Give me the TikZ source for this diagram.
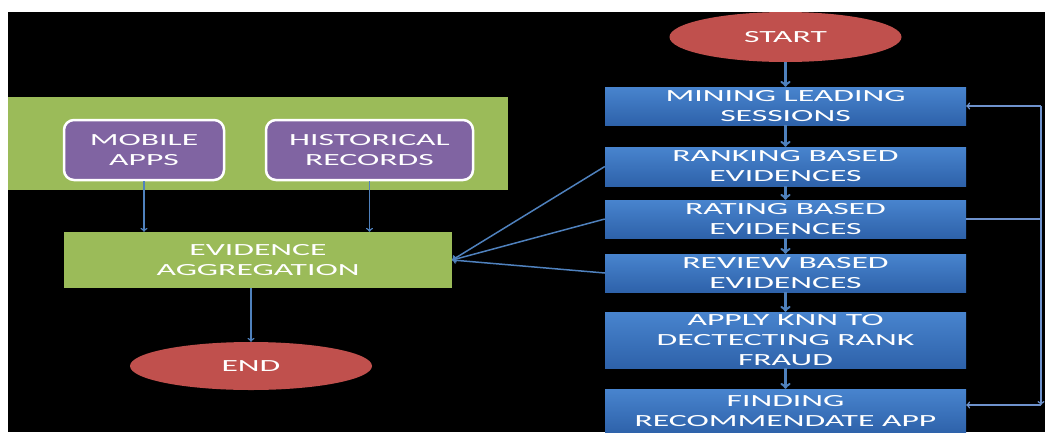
\documentclass[tikz,border=0pt]{standalone}
\definecolor{pptgreen}{RGB}{155, 187, 89}
\definecolor{pptpurple}{RGB}{128, 100, 162}
\definecolor{pptred}{RGB}{192, 80, 77}
\definecolor{pptblue}{RGB}{79, 129, 189}
\definecolor{pptbluetop}{RGB}{72, 132, 206}
\definecolor{pptbluebot}{RGB}{46, 98, 170}
\definecolor{pptline}{RGB}{110, 146, 204}
\usepackage{fontspec}
\setmainfont[FakeStretch=1.98]{Carlito}
\usepackage{tikz}
\usetikzlibrary{shapes.geometric}

\begin{document}
\begin{tikzpicture}[x=1pt, y=-1pt,
    every node/.style={text=white, align=center, inner sep=0pt, font=\fontsize{17}{20}\selectfont},
    stepbox/.style={rectangle, top color=pptbluetop, bottom color=pptbluebot, minimum width=361pt, minimum height=38pt},
    greenbox/.style={rectangle, fill=pptgreen},
    sourcebox/.style={rectangle, rounded corners=10pt, draw=white, line width=2.5pt, fill=pptpurple, minimum height=60pt},
    terminal/.style={ellipse, fill=pptred},
    flow/.style={->, line width=2.5pt, pptblue},
    link/.style={line width=1.5pt, pptline}]
    \useasboundingbox (0,0) rectangle (1045,432);
    \fill[white] (0,0) rectangle (1045,432);
    \fill[black] (8,12) rectangle (1045,432);
    \clip (8,12) rectangle (1045,432);
            % left side: inputs and aggregation
            \node[greenbox, minimum width=500pt, minimum height=93pt] (inputs) at (258,143.5) {};
            \node[sourcebox, minimum width=160pt] (mobile) at (144,150) {MOBILE\\APPS};
            \node[sourcebox, minimum width=207pt] (history) at (369.5,150) {HISTORICAL\\RECORDS};
            \node[greenbox, minimum width=388pt, minimum height=56pt] (aggr) at (258,260) {EVIDENCE\\AGGREGATION};
            \node[terminal, minimum width=242pt, minimum height=48pt] (end) at (251,366) {END};
            \draw[flow, line width=1.5pt] (mobile.south) -- (mobile.south |- aggr.north);
            \draw[flow, line width=1.5pt] (history.south) -- (history.south |- aggr.north);
            \draw[flow, line width=1.5pt] (aggr.south -| end.north) -- (end.north);
            % right side: main flow
            \node[terminal, minimum width=232pt, minimum height=50pt] (start) at (785.5,37) {START};
            \node[stepbox] (mining) at (785.5,106) {MINING LEADING\\SESSIONS};
            \node[stepbox, minimum height=39pt] (ranking) at (785.5,166.5) {RANKING BASED\\EVIDENCES};
            \node[stepbox] (rating) at (785.5,219) {RATING BASED\\EVIDENCES};
            \node[stepbox] (review) at (785.5,273) {REVIEW BASED\\EVIDENCES};
            \node[stepbox, minimum height=56pt] (knn) at (785.5,340) {APPLY KNN TO\\DECTECTING RANK\\FRAUD};
            \node[stepbox, minimum height=44pt] (finding) at (785.5,411) {FINDING\\RECOMMENDATE APP};
            \draw[flow] (start) -- (mining);
            \draw[flow] (mining) -- (ranking);
            \draw[flow] (ranking) -- (rating);
            \draw[flow] (rating) -- (review);
            \draw[flow] (review) -- (knn);
            \draw[flow] (knn) -- (finding);
            % evidences into aggregation
            \draw[flow, line width=1.5pt] (ranking.west) -- (aggr.east);
            \draw[flow, line width=1.5pt] (rating.west) -- (aggr.east);
            \draw[flow, line width=1.5pt] (review.west) -- (aggr.east);
            % feedback loop
            \coordinate (fbtop) at (1041,106);
            \coordinate (fbbot) at (1041,405);
            \draw[link] (rating.east) -- (rating.east -| fbtop);
            \draw[link, ->] (fbtop) -- (fbbot);
            \draw[link, ->] (fbtop) -- (fbtop -| mining.east);
            \draw[link, ->] (fbbot) -- (fbbot -| finding.east);
        \end{tikzpicture}
\end{document}
